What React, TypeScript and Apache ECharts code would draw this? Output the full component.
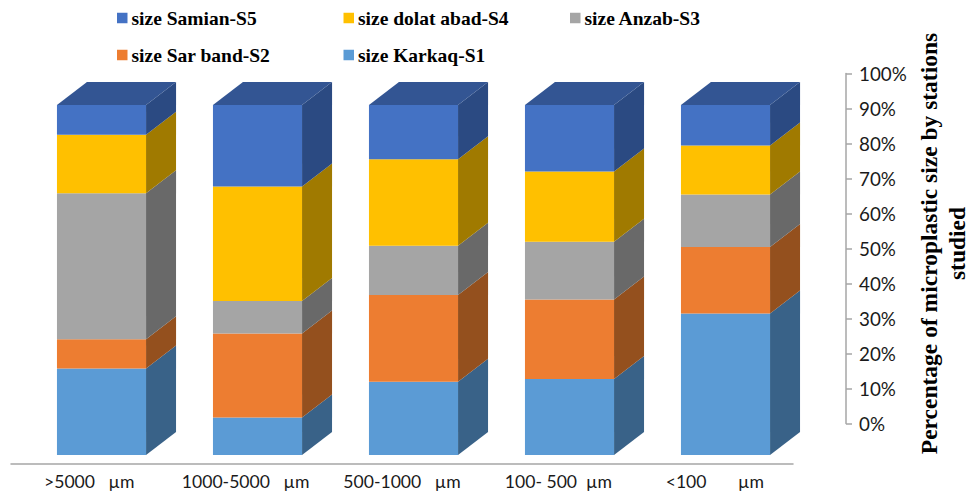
import React, { useEffect, useRef } from "react";
import * as echarts from "echarts";

const categories = [">5000   µm", "1000-5000   µm", "500-1000   µm", "100- 500  µm", "<100       µm"];
const percentTicks = [0, 10, 20, 30, 40, 50, 60, 70, 80, 90, 100];

// Stations listed from the bottom of each stack upward.
const karkaqS1 = [24.7, 10.7, 20.9, 21.7, 40.4];
const sarBandS2 = [8.4, 24.0, 24.8, 22.7, 19.0];
const anzabS3 = [41.7, 9.3, 14.1, 16.5, 15.0];
const dolatAbadS4 = [16.7, 32.7, 24.7, 20.1, 14.0];
const samianS5 = [8.5, 23.3, 15.5, 19.0, 11.6];

const stations = [
  { name: "size Karkaq-S1", values: karkaqS1, front: "#5b9bd5", side: "#396288" },
  { name: "size Sar band-S2", values: sarBandS2, front: "#ed7d31", side: "#94501e" },
  { name: "size Anzab-S3", values: anzabS3, front: "#a5a5a5", side: "#696969" },
  { name: "size dolat abad-S4", values: dolatAbadS4, front: "#ffc000", side: "#a07a00" },
  { name: "size Samian-S5", values: samianS5, front: "#4472c4", side: "#2b4a82" },
];
const roofColor = "#335593";

// Oblique depth of the 3D columns, in pixels.
const depthX = 30;
const depthY = -23;

const legendSlots = [
  { name: "size Samian-S5", left: 117, top: 8 },
  { name: "size dolat abad-S4", left: 343.5, top: 8 },
  { name: "size Anzab-S3", left: 570, top: 8 },
  { name: "size Sar band-S2", left: 117, top: 45 },
  { name: "size Karkaq-S1", left: 343.5, top: 45 },
];

const serif = "'Liberation Serif', 'Times New Roman', serif";
const axisFont = "Lato, Calibri, sans-serif";

function buildSeries() {
  const totals = categories.map(() => 0);
  return stations.map((station, stationIndex) => {
    const data = station.values.map((value, i) => {
      const start = totals[i];
      totals[i] += value;
      return [i, start, totals[i]];
    });
    const isTop = stationIndex === stations.length - 1;
    return {
      type: "custom",
      name: station.name,
      xAxisIndex: 0,
      yAxisIndex: 0,
      itemStyle: { color: station.front },
      data,
      encode: { x: 0, y: [1, 2] },
      renderItem: (_params: any, api: any) => {
        const category = api.value(0);
        const low = api.coord([category, api.value(1)]);
        const high = api.coord([category, api.value(2)]);
        const width = api.size([1, 0])[0] * 0.571;
        const x0 = low[0] - width / 2;
        const x1 = low[0] + width / 2;
        const y0 = low[1];
        const y1 = high[1];
        const children: any[] = [
          {
            type: "polygon",
            shape: {
              points: [
                [x1, y0],
                [x1, y1],
                [x1 + depthX, y1 + depthY],
                [x1 + depthX, y0 + depthY],
              ],
            },
            style: { fill: station.side },
          },
          {
            type: "rect",
            shape: { x: x0, y: y1, width: x1 - x0, height: y0 - y1 },
            style: { fill: station.front },
          },
        ];
        if (isTop) {
          children.push({
            type: "polygon",
            shape: {
              points: [
                [x0, y1],
                [x1, y1],
                [x1 + depthX, y1 + depthY],
                [x0 + depthX, y1 + depthY],
              ],
            },
            style: { fill: roofColor },
          });
        }
        return { type: "group", children };
      },
    };
  });
}

export default function App() {
  const ref = useRef<HTMLDivElement>(null);

  useEffect(() => {
    const chart = echarts.init(ref.current!, undefined, { renderer: "svg" });
    chart.setOption({
      animation: false,
      backgroundColor: "#ffffff",
      legend: legendSlots.map((slot) => ({
        data: [slot.name],
        left: slot.left,
        top: slot.top,
        padding: 0,
        icon: "rect",
        itemWidth: 10.5,
        itemHeight: 10.5,
        itemGap: 0,
        selectedMode: false,
        textStyle: {
          fontFamily: serif,
          fontWeight: "bold",
          fontSize: 19.5,
          color: "#000000",
          padding: [0, 0, 0, -1],
        },
      })),
      grid: [
        { left: 23.5, width: 780, top: 105, height: 350 },
        { left: 11, width: 782, top: 105, height: 359 },
        { left: 845, width: 1, top: 73.5, height: 350 },
      ],
      xAxis: [
        { type: "category", gridIndex: 0, data: categories, show: false },
        {
          type: "category",
          gridIndex: 1,
          data: categories,
          axisTick: { show: false },
          axisLine: { lineStyle: { color: "#a6a6a6", width: 1.5 } },
          axisLabel: {
            fontFamily: axisFont,
            fontSize: 17.6,
            color: "#1a1a1a",
            margin: 8,
            interval: 0,
          },
        },
        { type: "category", gridIndex: 2, data: [""], show: false },
      ],
      yAxis: [
        { type: "value", gridIndex: 0, min: 0, max: 100, show: false },
        { type: "value", gridIndex: 1, min: 0, max: 100, show: false },
        {
          type: "value",
          gridIndex: 2,
          position: "right",
          min: 0,
          max: 100,
          interval: 10,
          splitLine: { show: false },
          axisLine: { show: true, lineStyle: { color: "#a6a6a6", width: 1.5 } },
          axisTick: { show: true, length: 6, lineStyle: { color: "#a6a6a6", width: 1.5 } },
          axisLabel: {
            fontFamily: axisFont,
            fontSize: 18.8,
            color: "#1a1a1a",
            margin: 13,
            formatter: (value: number) =>
              percentTicks.includes(value) ? `${value}%` : "",
          },
        },
      ],
      graphic: [
        {
          type: "text",
          x: 943,
          y: 243.5,
          rotation: Math.PI / 2,
          style: {
            text: "Percentage of microplastic size by stations\nstudied",
            fontFamily: serif,
            fontWeight: "bold",
            fontSize: 23.5,
            lineHeight: 28,
            fill: "#000000",
            textAlign: "center",
            textVerticalAlign: "middle",
          },
        },
      ],
      series: buildSeries(),
    });
    return () => chart.dispose();
  }, []);

  return (
    <div
      ref={ref}
      style={{ position: "absolute", left: 0, top: 0, width: 978, height: 492 }}
    />
  );
}
